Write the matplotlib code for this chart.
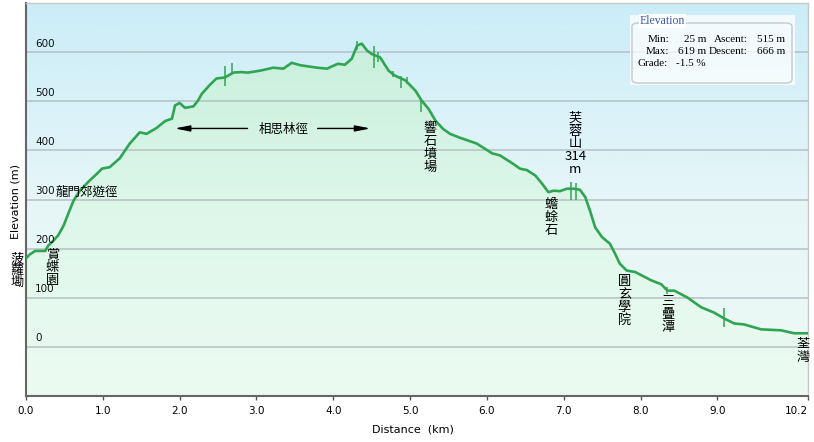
import numpy as np
import matplotlib
matplotlib.use("Agg")
from matplotlib import pyplot as plt
from matplotlib.colors import LinearSegmentedColormap
from matplotlib.patches import Polygon, FancyBboxPatch

# elevation profile (km, m)
dist = [0.00, 0.05, 0.12, 0.25, 0.29, 0.35, 0.42, 0.49, 0.56, 0.62, 0.70, 0.83,
        0.92, 0.99, 1.09, 1.22, 1.35, 1.48, 1.57, 1.70, 1.81, 1.90, 1.94, 2.00,
        2.07, 2.18, 2.24, 2.29, 2.40, 2.48, 2.59, 2.70, 2.80, 2.89, 3.05, 3.22,
        3.35, 3.46, 3.57, 3.79, 3.92, 3.96, 4.06, 4.15, 4.24, 4.31, 4.37, 4.44,
        4.50, 4.61, 4.72, 4.80, 4.94, 5.07, 5.15, 5.24, 5.33, 5.43, 5.52, 5.65,
        5.87, 6.07, 6.17, 6.34, 6.43, 6.52, 6.63, 6.72, 6.80, 6.87, 6.95, 7.04,
        7.13, 7.21, 7.28, 7.34, 7.41, 7.50, 7.60, 7.67, 7.73, 7.82, 7.93, 8.14,
        8.27, 8.35, 8.44, 8.61, 8.79, 8.96, 9.09, 9.22, 9.35, 9.57, 9.83, 10.00,
        10.17]
elev = [180, 188, 195, 195, 206, 215, 227, 247, 275, 298, 318, 339,
        352, 363, 366, 384, 414, 437, 434, 446, 460, 465, 492, 497,
        487, 490, 502, 516, 535, 547, 549, 559, 560, 559, 563, 569,
        567, 579, 574, 569, 567, 570, 577, 575, 587, 614, 618, 604,
        597, 590, 563, 553, 543, 522, 502, 485, 461, 444, 434, 426,
        414, 394, 390, 373, 363, 360, 349, 332, 315, 318, 317, 322,
        322, 320, 305, 278, 243, 223, 210, 189, 169, 155, 152, 135,
        127, 114, 114, 100, 80, 69, 57, 47, 45, 35, 33, 27,
        27]

# GPS spikes: position, low, high
spike_x = [2.59, 2.68, 4.31, 4.53, 4.58, 4.78, 4.88, 4.96, 5.14, 7.10, 7.16, 8.35, 9.09]
spike_lo = [531, 559, 605, 568, 580, 549, 527, 535, 478, 298, 300, 108, 40]
spike_hi = [573, 578, 624, 614, 600, 563, 553, 550, 506, 335, 333, 122, 78]

yticks = [0, 100, 200, 300, 400, 500, 600]
xticks = [0, 1, 2, 3, 4, 5, 6, 7, 8, 9, 10.18]
xlabels = ["0.0", "1.0", "2.0", "3.0", "4.0", "5.0", "6.0", "7.0", "8.0", "9.0", "10.2"]

# place names: (km, m of top char, text, step in px)
vlabels = [
    (-0.117, 180, "菠蘿墈", 12),
    (0.345, 187, "賞蝶園", 13),
    (5.26, 444, "響石墳場", 12.8),
    (7.15, 465, ["芙", "蓉", "山", "314", "m"], 12.6),
    (6.84, 289, "蟾蜍石", 13),
    (7.79, 132, "圓玄學院", 13),
    (8.36, 91, "三疊潭", 13),
    (10.12, 5, "荃灣", 13),
]

W, H = 814, 442
XMAX = 10.18
YMIN, YMAX = -101, 701
cjk = ["Noto Sans CJK TC", "DejaVu Sans"]


def fxy(x, y):
    return x / W, 1 - y / H


fig = plt.figure(figsize=(W / 100, H / 100), dpi=100)
ax = fig.add_axes([26 / W, 46 / H, 782 / W, 393 / H])
ax.set_xlim(0, XMAX)
ax.set_ylim(YMIN, YMAX)

# background gradient
bg = LinearSegmentedColormap.from_list("bg", ["#cbedf8", "#e6f6f8", "#eefaf4"])
grad = np.linspace(0, 1, 256).reshape(-1, 1)
ax.imshow(grad, cmap=bg, extent=[0, XMAX, YMIN, YMAX], aspect="auto", zorder=0)

# filled area under profile
fg = LinearSegmentedColormap.from_list("fg", ["#c8efdc", "#def7ea", "#ecfbf2"])
poly = Polygon(np.column_stack([np.r_[dist, dist[-1], dist[0]],
                                np.r_[elev, YMIN, YMIN]]),
               facecolor="none", edgecolor="none")
ax.add_patch(poly)
img = ax.imshow(grad, cmap=fg, extent=[0, XMAX, YMIN, 640], aspect="auto", zorder=1)
img.set_clip_path(poly)

for y in yticks:
    ax.axhline(y, color="#b5c0c4", lw=1.1, zorder=2)
    ax.text(9 / 782, y + 7, str(y), transform=ax.get_yaxis_transform(),
            fontsize=7.5, ha="left", va="bottom", color="#111111", zorder=5)

ax.plot(dist, elev, color="#2fa552", lw=1.9, zorder=4, solid_joinstyle="round")
ax.vlines(spike_x, spike_lo, spike_hi, color="#2fa552", lw=1.1, zorder=4)

ax.set_yticks([])
ax.set_xticks(xticks, xlabels, fontsize=7.5)
ax.get_xticklabels()[-1].set_horizontalalignment("right")
ax.tick_params(axis="x", length=3, width=1, pad=4, color="#555555")
for side in ["left", "bottom"]:
    ax.spines[side].set_color("#666666")
    ax.spines[side].set_linewidth(1.5)
for side in ["top", "right"]:
    ax.spines[side].set_color("#c8c8c8")
    ax.spines[side].set_linewidth(1)

fig.text(*fxy(16, 202), "Elevation (m)", rotation=90, fontsize=8,
         ha="center", va="center")
fig.text(*fxy(413, 429), "Distance  (km)", fontsize=8, ha="center", va="center")

# place names
for x, y, txt, step in vlabels:
    for i, ch in enumerate(txt):
        ax.annotate(ch, xy=(x, y), xytext=(0, -i * step * 0.72),
                    textcoords="offset points", ha="center", va="center",
                    fontsize=9.5, family=cjk, annotation_clip=False, zorder=6)

ax.text(0.378, 314, "龍門郊遊徑", fontsize=9, family=cjk, ha="left", va="center", zorder=6)
ax.text(3.36, 443, "相思林徑", fontsize=9, family=cjk, ha="center", va="center", zorder=6)
arrow = dict(arrowstyle="-|>,head_length=0.9,head_width=0.18", color="black", lw=1)
ax.annotate("", xy=(1.90, 445), xytext=(2.92, 445), arrowprops=arrow, zorder=6)
ax.annotate("", xy=(4.52, 445), xytext=(3.76, 445), arrowprops=arrow, zorder=6)

# stats box
x0, y0 = fxy(630, 85)
x1, y1 = fxy(795, 15)
fig.patches.append(FancyBboxPatch((x0, y0), x1 - x0, y1 - y0, boxstyle="square,pad=0",
                                  transform=fig.transFigure, facecolor="white",
                                  alpha=0.75, edgecolor="none", zorder=3))
x0, y0 = fxy(632, 83)
x1, y1 = fxy(792, 23)
fig.patches.append(FancyBboxPatch((x0, y0), x1 - x0, y1 - y0,
                                  boxstyle="round,pad=0,rounding_size=0.008",
                                  transform=fig.transFigure, facecolor="none",
                                  edgecolor="#c4cacc", lw=1, zorder=4))
fig.text(*fxy(640, 21), "Elevation", fontsize=8.5, family="Liberation Serif",
         color="#3a5aa8", ha="left", va="center", zorder=5,
         bbox=dict(facecolor="white", edgecolor="none", pad=0.5))
serif = dict(fontsize=8, family="Liberation Serif", va="center", ha="right")
rows = [(39, "Min:", "25 m", "Ascent:", "515 m"),
        (52, "Max:", "619 m", "Descent:", "666 m")]
for yy, a, b, c, d in rows:
    fig.text(*fxy(669, yy), a, **serif)
    fig.text(*fxy(706, yy), b, **serif)
    fig.text(*fxy(748, yy), c, **serif)
    fig.text(*fxy(785, yy), d, **serif)
fig.text(*fxy(668, 63), "Grade:", **serif)
fig.text(*fxy(706, 63), "-1.5 %", **serif)

fig.savefig("out.png", dpi=100)
